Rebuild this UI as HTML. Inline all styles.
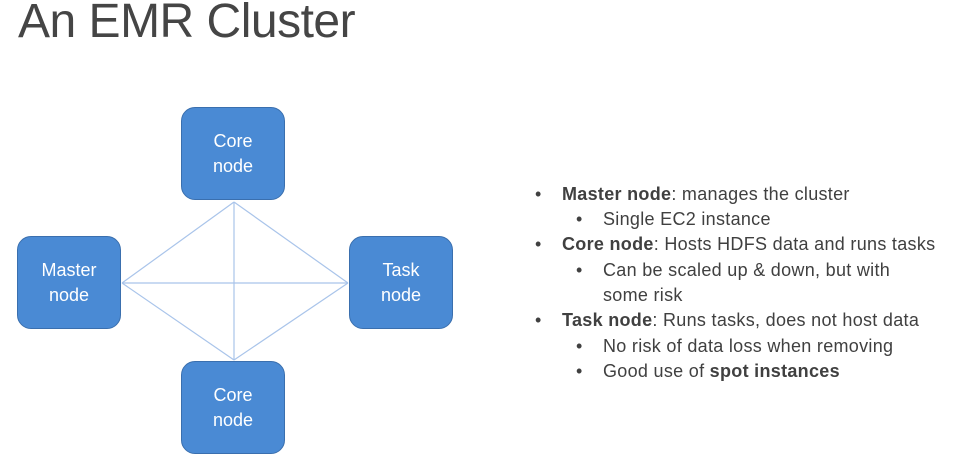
<!DOCTYPE html>
<html><head><meta charset="utf-8"><style>
body{margin:0;width:980px;height:475px;background:#fff;overflow:hidden;font-family:"Liberation Sans",sans-serif;position:relative}
.t{position:absolute;left:18px;top:-6px;font-size:48px;color:#454545;letter-spacing:-0.5px}
.n{position:absolute;width:104px;height:93px;background:#4a8ad4;border:1px solid #3a6fae;border-radius:14px;color:#fff;font-size:18px;line-height:25px;display:flex;align-items:center;justify-content:center;text-align:center;box-sizing:border-box}
.l{position:absolute;font-size:18px;letter-spacing:0.3px;color:#404040;white-space:nowrap;line-height:25px}
</style></head><body>
<div class="t">An EMR Cluster</div>
<svg width="980" height="475" style="position:absolute;left:0;top:0">
<g stroke="#a9c4ea" stroke-width="1.2" fill="none">
<line x1="122" y1="283" x2="234" y2="202"/>
<line x1="122" y1="283" x2="348" y2="283"/>
<line x1="122" y1="283" x2="234" y2="360"/>
<line x1="234" y1="202" x2="348" y2="283"/>
<line x1="234" y1="202" x2="234" y2="360"/>
<line x1="234" y1="360" x2="348" y2="283"/>
</g></svg>
<div class="n" style="left:181px;top:107px">Core<br>node</div>
<div class="n" style="left:17px;top:236px">Master<br>node</div>
<div class="n" style="left:349px;top:236px">Task<br>node</div>
<div class="n" style="left:181px;top:361px">Core<br>node</div>
<div class="l" style="left:535px;top:182px">•<span style="position:absolute;left:27px"><b>Master node</b>: manages the cluster</span></div>
<div class="l" style="left:576px;top:207px">•<span style="position:absolute;left:27px">Single EC2 instance</span></div>
<div class="l" style="left:535px;top:232px">•<span style="position:absolute;left:27px"><b>Core node</b>: Hosts HDFS data and runs tasks</span></div>
<div class="l" style="left:576px;top:258px">•<span style="position:absolute;left:27px">Can be scaled up &amp; down, but with</span></div>
<div class="l" style="left:603px;top:283px">some risk</div>
<div class="l" style="left:535px;top:308px">•<span style="position:absolute;left:27px"><b>Task node</b>: Runs tasks, does not host data</span></div>
<div class="l" style="left:576px;top:334px">•<span style="position:absolute;left:27px">No risk of data loss when removing</span></div>
<div class="l" style="left:576px;top:359px">•<span style="position:absolute;left:27px">Good use of <b>spot instances</b></span></div>
</body></html>
